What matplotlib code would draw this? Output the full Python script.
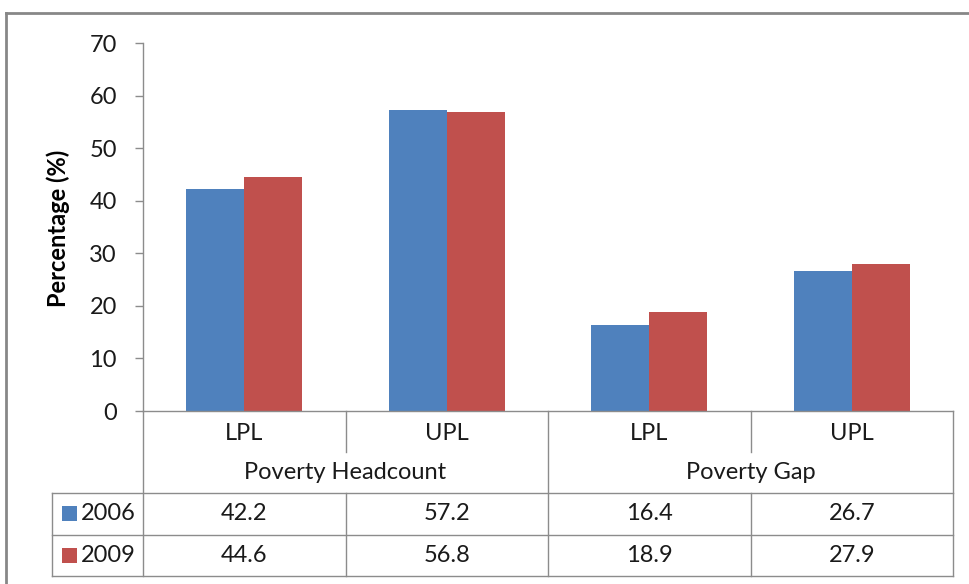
import matplotlib
matplotlib.use("Agg")
import matplotlib.pyplot as plt
from matplotlib.lines import Line2D
from matplotlib.patches import Rectangle
from matplotlib.transforms import IdentityTransform, blended_transform_factory

# ---- data ----
groups = ["Poverty Headcount", "Poverty Gap"]
categories = ["LPL", "UPL", "LPL", "UPL"]
series_names = ["2006", "2009"]
values_2006 = [42.2, 57.2, 16.4, 26.7]
values_2009 = [44.6, 56.8, 18.9, 27.9]
value_labels_2006 = ["42.2", "57.2", "16.4", "26.7"]
value_labels_2009 = ["44.6", "56.8", "18.9", "27.9"]
yticks = [0, 10, 20, 30, 40, 50, 60, 70]
ylabel = "Percentage (%)"

colors = ["#4F81BD", "#C0504D"]
grid_col = "#8C8C8C"
txt_col = "#1a1a1a"
FONT = "Lato"
FS = 17

W, H = 969, 584
fig = plt.figure(figsize=(W / 100, H / 100), dpi=100)
fig.patch.set_facecolor("white")

def fx(px):
    return px / W

def fy(py):
    return 1 - py / H

# axes area in pixels
ax_l, ax_r, ax_t, ax_b = 143, 953, 43, 411
ax = fig.add_axes([fx(ax_l), fy(ax_b), fx(ax_r - ax_l), (ax_b - ax_t) / H])
ax.set_xlim(-0.5, 3.5)
ax.set_ylim(0, 70)

n = len(categories)
xs = list(range(n))
bw = 0.286
ax.bar([x - bw / 2 for x in xs], values_2006, width=bw, color=colors[0], zorder=2)
ax.bar([x + bw / 2 for x in xs], values_2009, width=bw, color=colors[1], zorder=2)

for s in ["top", "right", "bottom"]:
    ax.spines[s].set_visible(False)
ax.spines["left"].set_color(grid_col)
ax.spines["left"].set_linewidth(1.0)
ax.set_xticks([])
ax.set_yticks(yticks)
ax.set_yticklabels([str(t) for t in yticks], fontsize=FS, fontfamily=FONT, color=txt_col)
ax.tick_params(axis="y", length=5.8, width=1.0, color=grid_col, pad=13)
fig.text(fx(58), fy(228), ylabel, fontsize=FS, fontfamily=FONT, fontweight="bold",
         rotation=90, ha="center", va="center", color="black")

# ---- data table below (pixel layout) ----
pix = blended_transform_factory(ax.transData, IdentityTransform())
fpix = IdentityTransform()

def Y(py):
    return H - py

rows = [411, 452, 493, 535, 576]
tbl_left = 52
lw = 1.0

def hline(x0, x1, py):
    fig.add_artist(Line2D([x0, x1], [Y(py), Y(py)], transform=fpix, color=grid_col, lw=lw))

def vline(px, y0, y1):
    fig.add_artist(Line2D([px, px], [Y(y0), Y(y1)], transform=fpix, color=grid_col, lw=lw))

# horizontal lines
hline(ax_l, ax_r, rows[0])
hline(tbl_left, ax_r, rows[2])
hline(tbl_left, ax_r, rows[3])
hline(tbl_left, ax_r, rows[4])
# vertical lines
col_w = (ax_r - ax_l) / n
vline(ax_l, rows[0], rows[4])
vline(ax_r, rows[0], rows[4])
vline(tbl_left, rows[2], rows[4])
vline(ax_l + 2 * col_w, rows[0], rows[4])
for k in (1, 3):
    vline(ax_l + k * col_w, rows[0], rows[1])
    vline(ax_l + k * col_w, rows[2], rows[4])

txt_kw = dict(fontsize=FS, fontfamily=FONT, color=txt_col, ha="center", va="center")
for i, c in enumerate(categories):
    ax.text(i, Y((rows[0] + rows[1]) / 2 + 2), c, transform=pix, clip_on=False, **txt_kw)
for g, name in enumerate(groups):
    ax.text(2 * g + 0.5, Y((rows[1] + rows[2]) / 2), name, transform=pix, clip_on=False, **txt_kw)
for i in range(n):
    ax.text(i, Y((rows[2] + rows[3]) / 2), value_labels_2006[i], transform=pix, clip_on=False, **txt_kw)
    ax.text(i, Y((rows[3] + rows[4]) / 2), value_labels_2009[i], transform=pix, clip_on=False, **txt_kw)

# legend keys in the table
for r, (name, col) in enumerate(zip(series_names, colors)):
    yc = (rows[2 + r] + rows[3 + r]) / 2
    fig.add_artist(Rectangle((62, Y(yc) - 7), 15, 15, transform=fpix, facecolor=col, edgecolor="none"))
    fig.text(fx(81), fy(yc), name, fontsize=FS, fontfamily=FONT, color=txt_col, ha="left", va="center")

# outer chart border
fig.add_artist(Line2D([6, W + 5], [Y(13), Y(13)], transform=fpix, color="#878787", lw=2))
fig.add_artist(Line2D([6, 6], [Y(13), -5], transform=fpix, color="#878787", lw=2))

fig.savefig("out.png", dpi=100)
